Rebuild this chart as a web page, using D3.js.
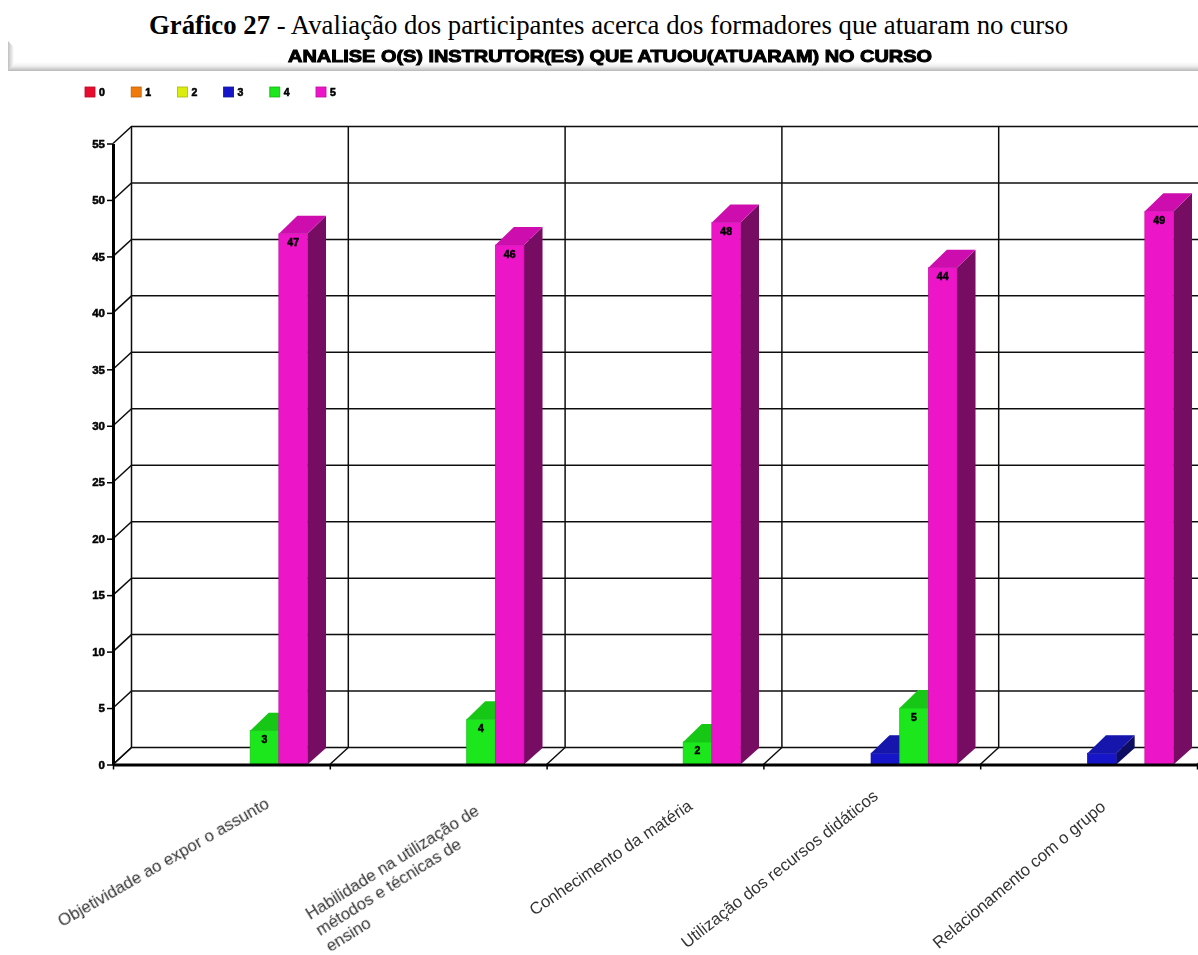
<!DOCTYPE html>
<html><head><meta charset="utf-8">
<script src="https://cdnjs.cloudflare.com/ajax/libs/d3/7.8.5/d3.min.js"></script>
<style>html,body{margin:0;padding:0;background:#fff;overflow:hidden}svg{display:block}</style>
</head><body><div id="c"></div>
<script>
const categories=[["Objetividade ao expor o assunto"],["Habilidade na utilização de","métodos e técnicas de","ensino"],["Conhecimento da matéria"],["Utilização dos recursos didáticos"],["Relacionamento com o grupo"]];
const seriesNames=["0","1","2","3","4","5"];
const seriesColors=["#e8112d","#f07a10","#dcec10","#1717c8","#1ae61a","#ec14c8"];
const values3=[0,0,0,1,1];
const values4=[3,4,2,5,0];
const values5=[47,46,48,44,49];
const yTicks=d3.range(0,56,5);
const labelStart=[[59,922],[307,915],[531,911],[683,944],[935,945]];
const labelAngle=[30,32,34,38,40];
const W=1198,H=955,dx=18.5,dy=17;
const svg=d3.select("#c").append("svg").attr("width",W).attr("height",H);
const defs=svg.append("defs");
const g1=defs.append("linearGradient").attr("id","bn").attr("x1",0).attr("x2",0).attr("y1",0).attr("y2",1);
g1.append("stop").attr("offset","0").attr("stop-color","#fff");
g1.append("stop").attr("offset","0.45").attr("stop-color","#f0f0f0");
g1.append("stop").attr("offset","1").attr("stop-color","#b8b8b8");
const g2=defs.append("linearGradient").attr("id","bl").attr("x1",0).attr("x2",1).attr("y1",0).attr("y2",0);
g2.append("stop").attr("offset","0").attr("stop-color","#c0c0c0");
g2.append("stop").attr("offset","1").attr("stop-color","#fff");
defs.append("filter").attr("id","soft").attr("filterUnits","userSpaceOnUse").attr("x",0).attr("y",0).attr("width",W).attr("height",H).append("feGaussianBlur").attr("stdDeviation",0.5);

// heading
svg.append("text").attr("x",608.5).attr("y",33.5).attr("text-anchor","middle").attr("font-family","Liberation Serif").attr("font-size",26.75).attr("fill","#000")
  .call(t=>{t.append("tspan").attr("font-weight","bold").text("Gráfico 27");t.append("tspan").text(" - Avaliação dos participantes acerca dos formadores que atuaram no curso");});
// banner
svg.append("rect").attr("x",8).attr("y",62).attr("width",W-8).attr("height",9).attr("fill","url(#bn)");
svg.append("path").attr("d","M8,41L14,47V64L8,71Z").attr("fill","url(#bl)");
svg.append("text").attr("x",610).attr("y",62).attr("text-anchor","middle").attr("font-family","Liberation Sans").attr("font-weight","bold").attr("font-size",17).attr("stroke","#000").attr("stroke-width",1).attr("filter","url(#soft)").attr("textLength",644).attr("lengthAdjust","spacingAndGlyphs").text("ANALISE O(S) INSTRUTOR(ES) QUE ATUOU(ATUARAM) NO CURSO");

const chart=svg.append("g").attr("filter","url(#soft)");
const y=d3.scaleLinear().domain([0,55]).range([764.5,143.5]);
const x=d3.scaleBand().domain(d3.range(categories.length)).range([114.5,1197]);
const inner=d3.scaleBand().domain(seriesNames).range([21,193]);

// legend
const legX=d3.scaleOrdinal().domain(seriesNames).range(seriesNames.map((_,i)=>85+i*46.2));
const leg=chart.append("g").selectAll("g").data(seriesNames).join("g").attr("transform",d=>`translate(${legX(d)},87)`);
leg.append("rect").attr("width",10).attr("height",10).attr("fill",(d,i)=>seriesColors[i]).attr("stroke",(d,i)=>d3.color(seriesColors[i]).darker(0.7)).attr("stroke-width",0.8);
leg.append("text").attr("x",14).attr("y",9).attr("font-family","Liberation Sans").attr("font-weight","bold").attr("font-size",10.5).attr("stroke","#000").attr("stroke-width",0.6).text(d=>d);

// back walls
const grid=chart.append("g").attr("stroke","#111").attr("stroke-width",1.5).attr("fill","none");
grid.selectAll(".h").data(yTicks).join("path").attr("d",d=>`M${113},${y(d)}L${113+dx},${y(d)-dy}L${W+2},${y(d)-dy}`);
const xa=d3.scaleLinear().domain([0,5]).range([113,1197]);
grid.selectAll(".v").data(d3.range(6)).join("path").attr("d",d=>`M${xa(d)},${y(0)}L${xa(d)+dx},${y(0)-dy}L${xa(d)+dx},${y(55)-dy}`);

// bars
function bar(series,vals){
  const c=seriesColors[seriesNames.indexOf(series)];
  const w=inner.bandwidth();
  const data=vals.map((v,i)=>({v,i})).filter(d=>d.v>0);
  const g=chart.append("g").selectAll("g").data(data).join("g");
  const L=d=>x(d.i)+inner(series);
  g.append("path").attr("fill",d3.color(c).darker(1.95)).attr("d",d=>`M${L(d)+w},${y(d.v)}l${dx},-18L${L(d)+w+dx},${y(0)-16.5}L${L(d)+w},${y(0)}Z`);
  g.append("path").attr("fill",d3.color(c).darker(0.4)).attr("d",d=>`M${L(d)},${y(d.v)}l${dx},-18h${w}l${-dx},18Z`);
  g.append("rect").attr("x",L).attr("y",d=>y(d.v)).attr("width",w).attr("height",d=>y(0)-y(d.v)).attr("fill",c).attr("stroke",d3.color(c).darker(0.5)).attr("stroke-width",0.7);
  if(series!=="3") g.append("text").attr("x",d=>L(d)+w/2).attr("y",d=>y(d.v)+12.5).attr("text-anchor","middle").attr("font-family","Liberation Sans").attr("font-weight","bold").attr("font-size",10.5).attr("stroke","#000").attr("stroke-width",0.5).text(d=>d.v);
}
bar("3",values3);bar("4",values4);bar("5",values5);

// axes
const ya=chart.append("g").attr("transform","translate(113,0)").call(d3.axisLeft(y).tickValues(yTicks).tickSize(6).tickSizeOuter(0).tickPadding(2));
ya.select(".domain").attr("stroke","#000").attr("stroke-width",3);
ya.selectAll("line").attr("stroke","#000").attr("stroke-width",1.5);
ya.selectAll("text").attr("font-family","Liberation Sans").attr("font-weight","bold").attr("font-size",11.5).attr("stroke","#000").attr("stroke-width",0.5);
const xg=chart.append("g").attr("transform","translate(0,764.5)").call(d3.axisBottom(xa).ticks(5).tickSize(5).tickSizeOuter(0).tickFormat(""));
xg.select(".domain").attr("stroke","#000").attr("stroke-width",3);
xg.selectAll("line").attr("stroke","#000").attr("stroke-width",1.5);

// category labels: one text per line
const labG=chart.append("g").selectAll("g").data(categories).join("g")
 .attr("transform",(d,i)=>`translate(${labelStart[i][0]},${labelStart[i][1]}) rotate(${-labelAngle[i]})`);
labG.selectAll("text").data(d=>d).join("text").attr("x",0).attr("y",(d,i)=>i*19).attr("dy","0.35em")
 .attr("font-family","Liberation Sans").attr("font-size",16.8).attr("fill","#333").text(d=>d);
</script></body></html>
